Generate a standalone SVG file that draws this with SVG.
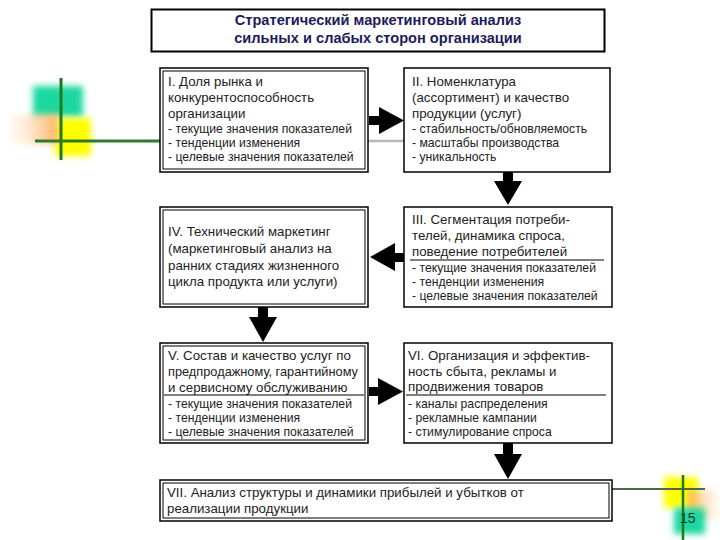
<svg xmlns="http://www.w3.org/2000/svg" width="720" height="540" viewBox="0 0 720 540">
<style>
.box{fill:#fff;stroke:#000;stroke-width:1.5}
.inner{fill:none;stroke:#000;stroke-width:1}
.t{font-family:"Liberation Sans",Arial,sans-serif;font-size:12.2px;fill:#222}
.h{font-family:"Liberation Sans",Arial,sans-serif;font-size:13.3px;fill:#222}
.title{font-family:"Liberation Sans",Arial,sans-serif;font-size:14.6px;font-weight:bold;fill:#1c1c5c}
.sep{stroke:#000;stroke-width:1}
.arr{fill:#000}
</style>
<defs>
<filter id="blur" x="-30%" y="-30%" width="160%" height="160%"><feGaussianBlur stdDeviation="3"/></filter>
<linearGradient id="orL" x1="1" y1="0" x2="0" y2="0"><stop offset="0" stop-color="#ffb060"/><stop offset="1" stop-color="#ffe8c8" stop-opacity="0.2"/></linearGradient>
<linearGradient id="orR" x1="0" y1="0" x2="1" y2="0"><stop offset="0" stop-color="#ffb060"/><stop offset="1" stop-color="#ffe8c8" stop-opacity="0.2"/></linearGradient>
</defs>
<rect width="720" height="540" fill="#fff"/>
<g id="decor-left">
<rect x="33" y="86" width="50" height="31" fill="#1fd8a0" filter="url(#blur)"/>
<rect x="55" y="118" width="36" height="38" fill="#ffff00" filter="url(#blur)"/>
<rect x="10" y="114" width="48" height="30" fill="url(#orL)" filter="url(#blur)"/>
<line x1="61" y1="78" x2="61" y2="160" stroke="#1e7a1e" stroke-width="3"/>
<line x1="35" y1="141" x2="160" y2="141" stroke="#2f7a2f" stroke-width="3"/>
<line x1="368" y1="141" x2="404" y2="141" stroke="#b8b8b8" stroke-width="2.5"/>
</g>
<g id="decor-right">
<rect x="664" y="477" width="34" height="31" fill="#ffff00" filter="url(#blur)"/>
<rect x="688" y="490" width="32" height="30" fill="url(#orR)" filter="url(#blur)"/>
<rect x="674" y="508" width="31" height="26" fill="#1fd8a0" filter="url(#blur)"/>
<line x1="612" y1="489" x2="705" y2="489" stroke="#4a6a4a" stroke-width="2"/>
<line x1="683" y1="475" x2="683" y2="540" stroke="#1e7a1e" stroke-width="2.5"/>
<text x="680" y="523" font-family="'Liberation Sans',Arial,sans-serif" font-size="14" fill="#1a3a2a">15</text>
</g>
<g id="title">
<rect x="151.5" y="9.5" width="453" height="42" fill="#fff" stroke="#000" stroke-width="2"/>
<text class="title" x="378" y="25" text-anchor="middle">Стратегический маркетинговый анализ</text>
<text class="title" x="378" y="43" text-anchor="middle">сильных и слабых сторон организации</text>
</g>
<g id="connectors">
<rect class="arr" x="369" y="116" width="12" height="9"/>
<polygon class="arr" points="379,107 404,120.5 379,134"/>
<rect class="arr" x="503" y="172" width="10" height="11"/>
<polygon class="arr" points="494,181 522,181 508,205"/>
<rect class="arr" x="393" y="253" width="11" height="9"/>
<polygon class="arr" points="395,243 370,257 395,271"/>
<rect class="arr" x="258" y="307" width="10" height="12"/>
<polygon class="arr" points="249,317 277,317 263,342"/>
<rect class="arr" x="369" y="387" width="11" height="9"/>
<polygon class="arr" points="378,378 403,391.5 378,405"/>
<rect class="arr" x="503" y="443" width="10" height="13"/>
<polygon class="arr" points="494,454 522,454 508,479"/>
</g>
<g id="box1">
<rect class="box" x="160" y="68" width="208" height="104"/>
<rect class="inner" x="163" y="71" width="202" height="98"/>
<text class="h" x="168" y="86">I. Доля рынка и</text>
<text class="h" x="168" y="102">конкурентоспособность</text>
<text class="h" x="168" y="118">организации</text>
<text class="t" x="168" y="133">- текущие значения показателей</text>
<text class="t" x="168" y="147">- тенденции изменения</text>
<text class="t" x="168" y="161">- целевые значения показателей</text>
</g>
<g id="box2">
<rect class="box" x="404" y="68" width="206" height="104" stroke-width="2"/>
<text class="h" x="412" y="86">II. Номенклатура</text>
<text class="h" x="412" y="102">(ассортимент) и качество</text>
<text class="h" x="412" y="118">продукции (услуг)</text>
<text class="t" x="412" y="133">- стабильность/обновляемость</text>
<text class="t" x="412" y="147">- масштабы производства</text>
<text class="t" x="412" y="161">- уникальность</text>
</g>
<g id="box3">
<rect class="box" x="404" y="207" width="208" height="100" stroke-width="2"/>
<text class="h" x="412" y="224">III. Сегментация потреби-</text>
<text class="h" x="412" y="240">телей, динамика спроса,</text>
<text class="h" x="412" y="256">поведение потребителей</text>
<line class="sep" x1="410" y1="260" x2="604" y2="260"/>
<text class="t" x="412" y="272">- текущие значения показателей</text>
<text class="t" x="412" y="286">- тенденции изменения</text>
<text class="t" x="412" y="300">- целевые значения показателей</text>
</g>
<g id="box4">
<rect class="box" x="160" y="207" width="208" height="100"/>
<rect class="inner" x="163" y="210" width="202" height="94"/>
<text class="h" x="168" y="236">IV. Технический маркетинг</text>
<text class="h" x="168" y="253">(маркетинговый анализ на</text>
<text class="h" x="168" y="270">ранних стадиях жизненного</text>
<text class="h" x="168" y="286">цикла продукта или услуги)</text>
</g>
<g id="box5">
<rect class="box" x="160" y="343" width="208" height="100"/>
<rect class="inner" x="163" y="346" width="202" height="94"/>
<text class="h" x="168" y="360">V. Состав и качество услуг по</text>
<text class="h" x="168" y="376" textLength="190" lengthAdjust="spacingAndGlyphs">предпродажному, гарантийному</text>
<text class="h" x="168" y="392">и сервисному обслуживанию</text>
<line class="sep" x1="164" y1="395" x2="364" y2="395"/>
<text class="t" x="168" y="408">- текущие значения показателей</text>
<text class="t" x="168" y="422">- тенденции изменения</text>
<text class="t" x="168" y="436">- целевые значения показателей</text>
</g>
<g id="box6">
<rect class="box" x="404" y="343" width="208" height="100" stroke-width="2"/>
<text class="h" x="408" y="360">VI. Организация и эффектив-</text>
<text class="h" x="408" y="376">ность сбыта, рекламы и</text>
<text class="h" x="408" y="391">продвижения товаров</text>
<line class="sep" x1="406" y1="395" x2="606" y2="395"/>
<text class="t" x="408" y="408">- каналы распределения</text>
<text class="t" x="408" y="422">- рекламные кампании</text>
<text class="t" x="408" y="436">- стимулирование спроса</text>
</g>
<g id="box7">
<rect class="box" x="160" y="480" width="452" height="41"/>
<rect class="inner" x="163" y="483" width="446" height="35"/>
<text class="h" x="167" y="497">VII. Анализ структуры и динамики прибылей и убытков от</text>
<text class="h" x="167" y="513">реализации продукции</text>
</g>
</svg>
